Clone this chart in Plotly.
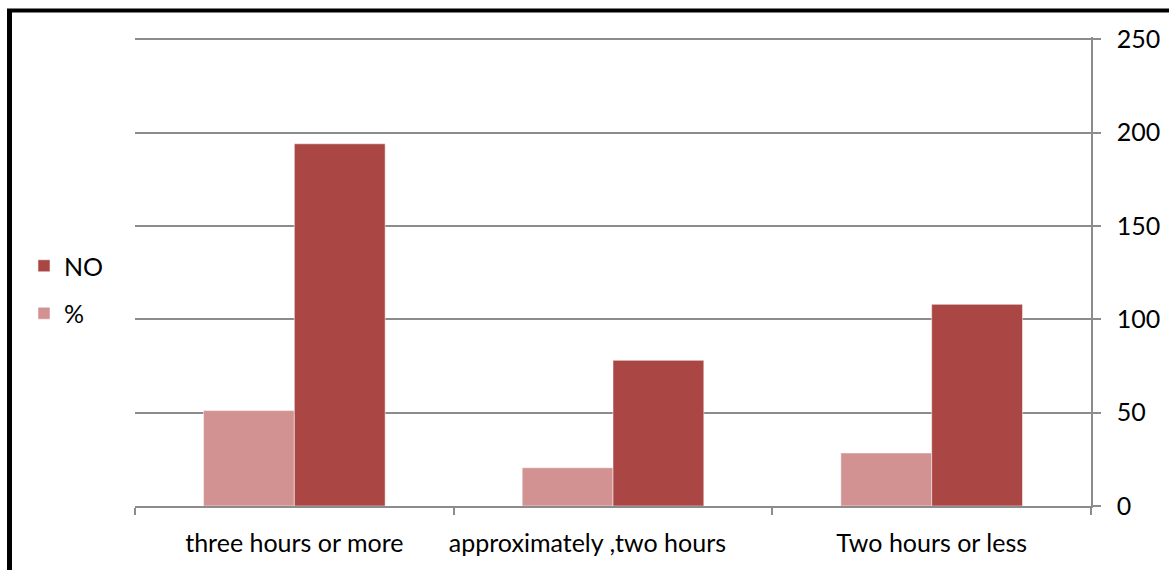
import plotly.graph_objects as go

# Survey responses: daily time spent, counts and share of respondents
categories = ["three hours or more", "approximately ,two hours", "Two hours or less"]
tick_labels = ["three hours or more", "approximately ,two hours" + "\u00a0" * 8, "Two hours or less"]
count_no = [194, 78, 108]
share_pct = [51.1, 20.5, 28.4]

Y_MAX = 251.2
W, H = 1169, 570
L, R, T, B = 135, 78, 37, 64
plot_w = W - L - R
plot_h = H - T - B

FONT = "Lato"
FS = 25
GRID = "#8c8c8c"


def px_x(px):
    return (px - L) / plot_w


def px_y(py):
    return (H - B - py) / plot_h


fig = go.Figure()
fig.add_trace(go.Bar(
    x=categories, y=share_pct, name="%",
    marker=dict(color="#D19291", line=dict(color="rgba(255,255,255,0.5)", width=1)),
    legendgroup="pct", legendrank=2,
))
fig.add_trace(go.Bar(
    x=categories, y=count_no, name="NO",
    marker=dict(color="#AA4744", line=dict(color="rgba(255,255,255,0.5)", width=1)),
    legendgroup="no", legendrank=1,
))

fig.update_layout(
    width=W, height=H,
    margin=dict(l=L, r=R, t=T, b=B, autoexpand=False),
    paper_bgcolor="white", plot_bgcolor="white",
    barmode="group", bargap=0.43, bargroupgap=0,
    font=dict(family=FONT, size=FS, color="black"),
    legend=dict(
        x=px_x(24), y=px_y(243), xanchor="left", yanchor="top",
        traceorder="grouped", tracegroupgap=12,
        font=dict(family=FONT, size=FS, color="black"),
        bgcolor="rgba(0,0,0,0)", itemclick=False,
    ),
    xaxis=dict(
        type="category", tickmode="array", tickvals=categories, ticktext=tick_labels,
        tickson="boundaries", ticks="outside", ticklen=7, tickwidth=1.5, tickcolor=GRID,
        showline=True, linecolor=GRID, linewidth=1.5, showgrid=False,
        tickfont=dict(family=FONT, size=FS, color="black"),
        tickangle=0, automargin=False, ticklabelstandoff=14,
    ),
    yaxis=dict(
        side="right", range=[0, Y_MAX], dtick=50, tickmode="linear", tick0=0,
        ticks="outside", ticklen=8, tickwidth=1.5, tickcolor=GRID,
        showline=True, linecolor=GRID, linewidth=1.5,
        showgrid=True, gridcolor=GRID, gridwidth=1.5, zeroline=False,
        tickfont=dict(family=FONT, size=FS, color="black"),
        automargin=False, ticklabelstandoff=11,
    ),
    shapes=[
        dict(type="line", xref="paper", yref="paper", x0=px_x(9.5), x1=px_x(9.5),
             y0=px_y(10.5), y1=px_y(H + 10), line=dict(color="black", width=5)),
        dict(type="line", xref="paper", yref="paper", x0=px_x(7), x1=px_x(W + 10),
             y0=px_y(10.5), y1=px_y(10.5), line=dict(color="black", width=4)),
    ],
)

fig.write_html("out.html")
